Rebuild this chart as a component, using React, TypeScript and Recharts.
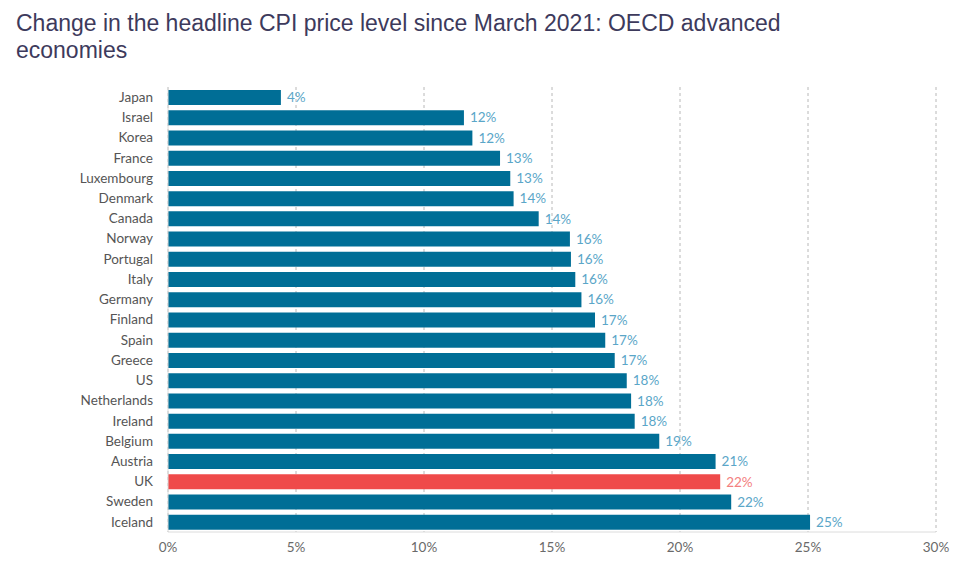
import React from 'react';
import { BarChart, Bar, XAxis, YAxis, CartesianGrid, LabelList, Cell } from 'recharts';

const countries = ['Japan','Israel','Korea','France','Luxembourg','Denmark','Canada','Norway','Portugal','Italy','Germany','Finland','Spain','Greece','US','Netherlands','Ireland','Belgium','Austria','UK','Sweden','Iceland'];
const changes = [4.41,11.56,11.89,12.97,13.37,13.5,14.48,15.7,15.74,15.91,16.15,16.68,17.08,17.45,17.92,18.09,18.23,19.19,21.39,21.57,22.0,25.08];
const xTicks = [0,5,10,15,20,25,30];
const highlight = 'UK';

const data = countries.map((c, i) => ({ country: c, value: changes[i] }));

const BLUE = '#006e96';
const RED = '#ef4a4a';
const BLUE_LABEL = '#5aa6c8';
const RED_LABEL = '#f38080';

const renderLabel = (props: any) => {
  const { x, y, width, height, value, index } = props;
  const isHi = countries[index] === highlight;
  return (
    <text x={x + width + 6} y={y + height / 2} dy="0.35em" fontSize={13.5} fontFamily="Lato, 'Open Sans', sans-serif" fill={isHi ? RED_LABEL : BLUE_LABEL}>
      {Math.round(value)}%
    </text>
  );
};

export default function App() {
  return (
    <div style={{ position: 'absolute', left: 0, top: 0, width: 960, height: 568, background: '#fff', overflow: 'hidden' }}>
      <div style={{ position: 'absolute', left: 16, top: 10, fontFamily: "'Liberation Sans', Arial, sans-serif", fontSize: 23, lineHeight: '27px', color: '#3d3a5c', width: 920 }}>
        Change in the headline CPI price level since March 2021: OECD advanced<br />economies
      </div>
      <div style={{ position: 'absolute', left: 0, top: 0 }}>
        <BarChart width={960} height={568} data={data} layout="vertical" margin={{ top: 87, right: 24, bottom: 16, left: 0 }} barCategoryGap={5}>
          <CartesianGrid horizontal={false} vertical={true} stroke="#b8b8b8" strokeDasharray="3 3" />
          <XAxis type="number" domain={[0, 30]} ticks={xTicks} tickFormatter={(v: number) => `${v}%`} height={20} tickSize={0} tickMargin={10} axisLine={{ stroke: '#dcdcdc' }} tickLine={false} tick={{ fontSize: 13.5, fill: '#6a6a6a', fontFamily: "Lato, 'Open Sans', sans-serif" }} />
          <YAxis type="category" dataKey="country" width={168} tickSize={0} tickMargin={15} axisLine={{ stroke: '#dcdcdc' }} tickLine={false} interval={0} tick={{ fontSize: 13.5, fill: '#555', fontFamily: "Lato, 'Open Sans', sans-serif" }} />
          <Bar dataKey="value" isAnimationActive={false} barSize={15}>
            {data.map((d) => (
              <Cell key={d.country} fill={d.country === highlight ? RED : BLUE} />
            ))}
            <LabelList dataKey="value" content={renderLabel} />
          </Bar>
        </BarChart>
      </div>
    </div>
  );
}
